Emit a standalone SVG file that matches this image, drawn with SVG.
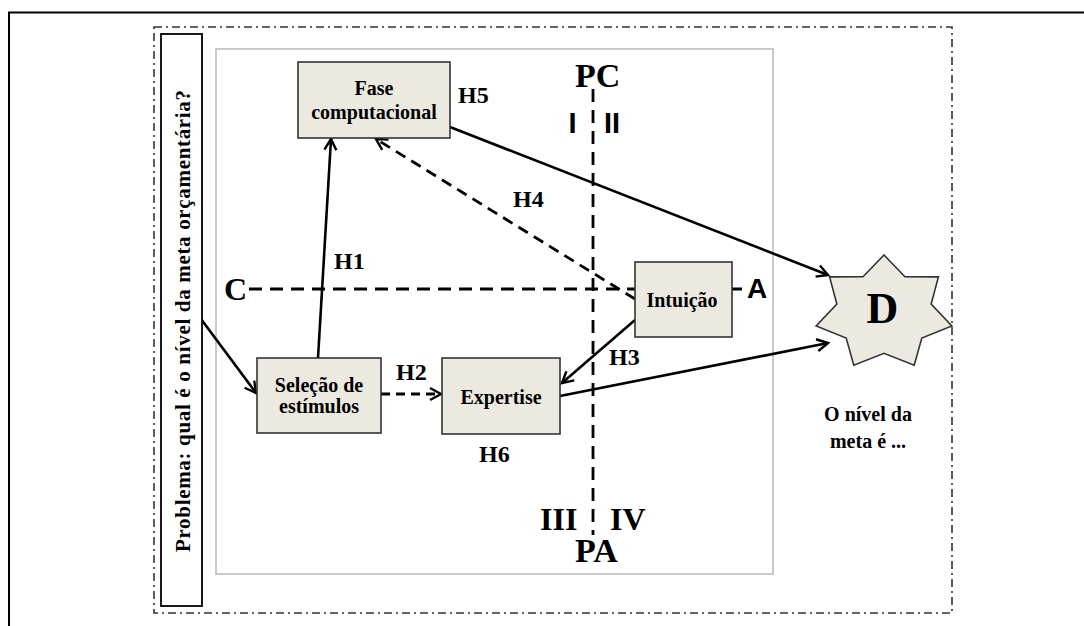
<svg xmlns="http://www.w3.org/2000/svg" width="1084" height="626" viewBox="0 0 1084 626">
<defs>
<style>
.box{fill:#ECEAE0;stroke:#333;stroke-width:1.6}
.bt{font-family:"Liberation Serif",serif;font-weight:bold;font-size:20px;fill:#000;text-anchor:middle}
.h{font-family:"Liberation Serif",serif;font-weight:bold;font-size:24px;fill:#000}
.big{font-family:"Liberation Serif",serif;font-weight:bold;fill:#000}
.sans{font-family:"Liberation Sans",sans-serif;font-weight:bold;fill:#000}
.ln{stroke:#000;stroke-width:2.6;fill:none}
.dash{stroke:#000;stroke-width:2.8;fill:none;stroke-dasharray:13 8}
</style>
<marker id="ah" markerUnits="userSpaceOnUse" markerWidth="16" markerHeight="16" viewBox="0 0 16 16" refX="13" refY="8" orient="auto">
<path d="M2,2 L13,8 L2,14" fill="none" stroke="#000" stroke-width="2.4"/>
</marker>
</defs>
<rect x="0" y="0" width="1084" height="626" fill="#fff"/>
<g id="frame">
<path d="M9,626 V12.5 H1084" fill="none" stroke="#000" stroke-width="2"/>
<rect x="154" y="27" width="798" height="586" fill="none" stroke="#333" stroke-width="1.6" stroke-dasharray="8 4 2 4"/>
<rect x="216" y="49" width="557" height="525" fill="none" stroke="#BDBDBD" stroke-width="1.6"/>
</g>
<g id="connectors">
<line class="dash" x1="249" y1="289" x2="742" y2="289"/>
<line class="dash" x1="593" y1="89" x2="593" y2="535"/>
<line class="ln" x1="201" y1="319" x2="256" y2="393" marker-end="url(#ah)"/>
<line class="ln" x1="318" y1="358" x2="331" y2="139" marker-end="url(#ah)"/>
<line class="dash" x1="381" y1="394" x2="441" y2="394" style="stroke-dasharray:9 6" marker-end="url(#ah)"/>
<line class="ln" x1="635" y1="320" x2="562" y2="383" marker-end="url(#ah)"/>
<line class="dash" x1="635" y1="299" x2="376" y2="139" style="stroke-dasharray:11 7" marker-end="url(#ah)"/>
<line class="ln" x1="450" y1="127" x2="828" y2="275" marker-end="url(#ah)"/>
<line class="ln" x1="560" y1="396" x2="828" y2="343" marker-end="url(#ah)"/>
</g>
<g id="problema">
<rect x="161" y="34" width="41" height="572" fill="#fff" stroke="#000" stroke-width="1.8"/>
<text class="bt" transform="translate(190,321) rotate(-90)" style="font-size:21px" textLength="462" lengthAdjust="spacing">Problema:  qual  é o nível da  meta orçamentária?</text>
</g>
<g id="fase">
<rect class="box" x="298" y="62" width="152" height="76"/>
<text class="bt" x="374" y="95">Fase</text>
<text class="bt" x="374" y="119">computacional</text>
</g>
<g id="selecao">
<rect class="box" x="257" y="358" width="124" height="75"/>
<text class="bt" x="319" y="392">Seleção de</text>
<text class="bt" x="319" y="413">estímulos</text>
</g>
<g id="expertise">
<rect class="box" x="442" y="358" width="118" height="76"/>
<text class="bt" x="501" y="404">Expertise</text>
</g>
<g id="intuicao">
<rect class="box" x="635" y="262" width="97" height="75"/>
<text class="bt" x="682" y="307">Intuição</text>
</g>
<g id="d">
<polygon class="box" points="884,255 904.98,276.69 938.41,276.84 931.15,304.03 951.85,325.91 921.81,338.13 914.2,365.26 884,353.3 853.8,365.26 846.19,338.13 816.15,325.91 836.85,304.03 829.59,276.84 863.02,276.69"/>
<text class="bt" x="882.5" y="323" style="font-size:44px">D</text>
<text class="bt" x="868" y="421">O nível da</text>
<text class="bt" x="868" y="448">meta é ...</text>
</g>
<g id="labels">
<text class="h" x="334" y="269">H1</text>
<text class="h" x="396" y="380">H2</text>
<text class="h" x="609" y="365">H3</text>
<text class="h" x="513" y="207">H4</text>
<text class="h" x="458" y="103">H5</text>
<text class="h" x="479" y="462">H6</text>
<text class="big" x="224" y="300" style="font-size:32px">C</text>
<text class="sans" x="747" y="298" style="font-size:28px">A</text>
<text class="big" x="575" y="87" style="font-size:34px">PC</text>
<text class="big" x="575" y="562" style="font-size:34px">PA</text>
<text class="big" x="540" y="530" style="font-size:32px">III</text>
<text class="big" x="610" y="530" style="font-size:32px">IV</text>
<text class="sans" x="572.5" y="133" style="font-size:29px;text-anchor:middle">I</text>
<text class="sans" x="612" y="133" style="font-size:29px;text-anchor:middle">II</text>
</g>
</svg>
